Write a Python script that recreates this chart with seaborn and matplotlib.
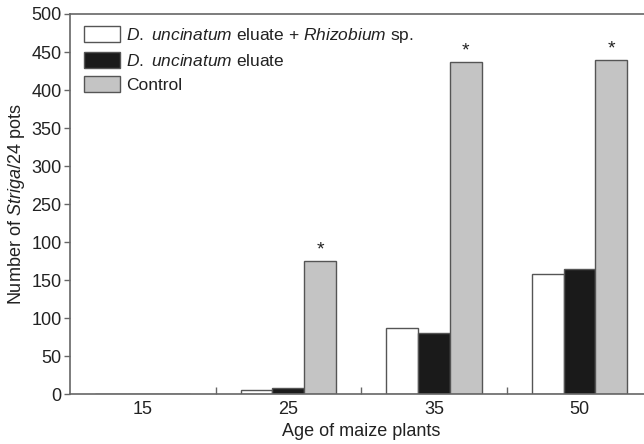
import matplotlib
matplotlib.use("Agg")
import matplotlib.pyplot as plt
import seaborn as sns
import pandas as pd
from matplotlib.ticker import FixedLocator

ages = ["15", "25", "35", "50"]
series_names = [
    r"$\mathit{D.}$ $\mathit{uncinatum}$ eluate + $\mathit{Rhizobium}$ sp.",
    r"$\mathit{D.}$ $\mathit{uncinatum}$ eluate",
    "Control",
]
eluate_rhizobium = [0, 6, 88, 158]
eluate = [0, 8, 81, 165]
control = [0, 176, 437, 440]
significant = [False, True, True, True]
ytick_values = [0, 50, 100, 150, 200, 250, 300, 350, 400, 450, 500]
ytick_labels = ["0", "50", "100", "150", "100", "250", "300", "350", "400", "450", "500"]

sns.set_theme(style="white")
plt.rcParams["font.family"] = ["Liberation Sans", "DejaVu Sans"]
plt.rcParams["mathtext.fontset"] = "custom"
plt.rcParams["mathtext.it"] = "Liberation Sans:italic"
plt.rcParams["mathtext.rm"] = "Liberation Sans"

rows = []
for name, vals in zip(series_names, [eluate_rhizobium, eluate, control]):
    for a, v in zip(ages, vals):
        rows.append({"age": a, "series": name, "value": v})
df = pd.DataFrame(rows)

fig = plt.figure(figsize=(6.44, 4.44), dpi=100)
ax = fig.add_axes([0.1087, 0.1115, 0.904, 0.857])

palette = ["#ffffff", "#1a1a1a", "#c4c4c4"]
sns.barplot(data=df, x="age", y="value", hue="series", order=ages,
            hue_order=series_names, palette=palette, width=0.655,
            edgecolor="#555555", linewidth=1.0, ax=ax, legend=True)

fs = 13
ax.set_xlim(-0.5, 3.5)
ax.set_ylim(0, 500)
ax.yaxis.set_major_locator(FixedLocator(ytick_values))
ax.set_yticklabels(ytick_labels)
ax.tick_params(axis="y", direction="out", length=4, width=1, color="#666666",
               left=True, labelsize=fs, labelcolor="#222222", pad=2)
ax.tick_params(axis="x", which="major", length=0, labelsize=fs,
               labelcolor="#222222", pad=5)
ax.xaxis.set_minor_locator(FixedLocator([0.5, 1.5, 2.5]))
ax.tick_params(axis="x", which="minor", direction="in", length=5, width=1,
               color="#666666", bottom=True)

for s in ["left", "bottom", "top", "right"]:
    ax.spines[s].set_color("#666666")
    ax.spines[s].set_linewidth(1.2)

ax.set_xlabel("Age of maize plants", fontsize=fs, color="#222222", labelpad=3)
ax.set_ylabel(r"Number of $\mathit{Striga}$/24 pots", fontsize=fs,
              color="#222222", labelpad=3)

# asterisks over control bars
ctrl_bars = ax.containers[2]
for bar, sig in zip(ctrl_bars, significant):
    if sig:
        xc = bar.get_x() + bar.get_width() / 2
        ax.text(xc, bar.get_height() + 3, "*", ha="center", va="bottom",
                fontsize=14, color="#222222")

leg = ax.legend(loc="upper left", frameon=False, fontsize=12.5,
                handlelength=2.1, handleheight=1.05, labelspacing=0.4,
                handletextpad=0.35, borderaxespad=0.4, bbox_to_anchor=(0.0, 1.005))
for t in leg.get_texts():
    t.set_color("#222222")

fig.savefig("out.png", dpi=100)
